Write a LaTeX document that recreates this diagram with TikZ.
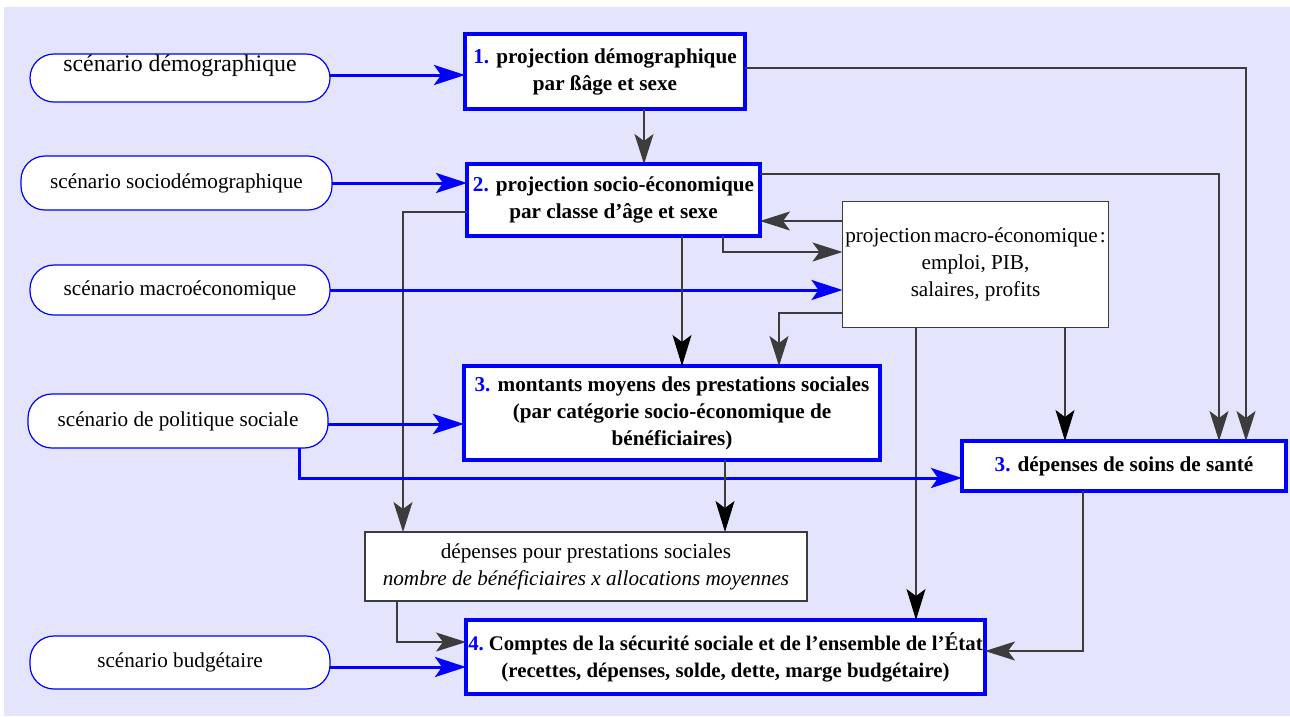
\documentclass[tikz,border=0pt]{standalone}
\usepackage{fontspec}
\setmainfont{Liberation Serif}
\usetikzlibrary{arrows.meta}
\definecolor{bg}{RGB}{228,228,252}
\definecolor{dk}{RGB}{60,60,60}
\definecolor{bl}{RGB}{0,0,255}
\begin{document}
\begin{tikzpicture}[x=1pt,y=-1pt,
 every node/.style={inner sep=0pt, outer sep=0pt},
 oval/.style={draw=bl, line width=1.2pt, fill=white, rounded corners=24pt, font=\fontsize{21.2}{27}\selectfont},
 mainbox/.style={draw=bl, line width=4pt, fill=white, align=center, font=\bfseries\fontsize{21.2}{27}\selectfont},
 plainbox/.style={draw=dk, line width=1.2pt, fill=white, align=center, font=\fontsize{21.2}{27}\selectfont},
 bluearrow/.style={draw=bl, line width=3pt, -{Stealth[length=31pt,width=20pt,inset=7pt]}},
 grayarrow/.style={draw=dk, line width=1.2pt, -{Stealth[length=30pt,width=19pt,inset=7pt]}},
 blackarrow/.style={draw=dk, line width=1.2pt, -{Stealth[length=31pt,width=19pt,inset=7pt,color=black]}}
]
\useasboundingbox (0,0) rectangle (1290,716);
\fill[bg] (4,7) rectangle (1290,716);

% scenario ovals
\node[oval, minimum width=300pt, minimum height=48pt,
  label={[font=\fontsize{23.8}{28}\selectfont, yshift=12pt]center:scénario démographique}] (o1) at (180,78) {};
\node[oval, minimum width=311pt, minimum height=54pt] (o2) at (176.5,183) {scénario sociodémographique};
\node[oval, minimum width=300pt, minimum height=50pt] (o3) at (180,290) {scénario macroéconomique};
\node[oval, minimum width=300pt, minimum height=54pt] (o4) at (178,421) {scénario de politique sociale};
\node[oval, minimum width=300pt, minimum height=53pt] (o5) at (180,662.5) {scénario budgétaire};

% main boxes
\node[mainbox, minimum width=280pt, minimum height=75pt] (b1) at (605,71.5)
  {\textcolor{bl}{1.} projection démographique\\par ßâge et sexe};
\node[mainbox, minimum width=293pt, minimum height=72pt] (b2) at (613.5,200)
  {\textcolor{bl}{2.} projection socio-économique\\par classe d’âge et sexe};
\node[plainbox, minimum width=266pt, minimum height=126pt] (macro) at (975.5,264.5)
  {projection\hspace{3pt}macro-économique\hspace{2pt}:\\emploi, PIB,\\salaires, profits};
\node[mainbox, minimum width=416pt, minimum height=94pt] (b3) at (672,413)
  {\textcolor{bl}{3.} montants moyens des prestations sociales\\(par catégorie socio-économique de\\bénéficiaires)};
\node[mainbox, minimum width=324pt, minimum height=50pt] (health) at (1124,466)
  {\textcolor{bl}{3.} dépenses de soins de santé};
\node[plainbox, minimum width=442pt, minimum height=69pt] (dep) at (586,566.5)
  {dépenses pour prestations sociales\\\textit{nombre de bénéficiaires x allocations moyennes}};
\node[mainbox, minimum width=519pt, minimum height=74pt, font=\bfseries\fontsize{20.8}{27}\selectfont] (b4) at (725.5,657)
  {\textcolor{bl}{4.}\hspace{-2pt} Comptes de la sécurité sociale et de l’ensemble de l’État\\(recettes, dépenses, solde, dette, marge budgétaire)};

% connectors
\draw[bluearrow] (o1.east |- 0,75) -- (b1.west |- 0,75);
\draw[grayarrow] (b1.south -| 644,0) -- (b2.north -| 644,0);
\draw[bluearrow] (o2.east |- 0,183) -- (b2.west |- 0,183);
\draw[grayarrow] (b2.west |- 0,212) -| (dep.north -| 403,0);
\draw[grayarrow] (b2.east |- 0,174) -| (health.north -| 1219,0);
\draw[grayarrow] (b1.east |- 0,68) -| (health.north -| 1246,0);
\draw[grayarrow] (macro.west |- 0,221) -- (b2.east |- 0,221);
\draw[grayarrow] (b2.south -| 723,0) |- (macro.west |- 0,252);
\draw[bluearrow] (o3.east |- 0,290) -- (macro.west |- 0,290);
\draw[blackarrow] (b2.south -| 682,0) -- (b3.north -| 682,0);
\draw[grayarrow] (macro.west |- 0,313) -| (b3.north -| 779,0);
\draw[blackarrow] (macro.south -| 916,0) -- (b4.north -| 916,0);
\draw[blackarrow] (macro.south -| 1065,0) -- (health.north -| 1065,0);
\draw[bluearrow] (o4.east |- 0,424) -- (b3.west |- 0,424);
\draw[bluearrow] (o4.south -| 299,0) |- (health.west |- 0,478);
\draw[blackarrow] (b3.south -| 725,0) -- (dep.north -| 725,0);
\draw[grayarrow] (dep.south -| 397,0) |- (b4.west |- 0,642);
\draw[bluearrow] (o5.east |- 0,667) -- (b4.west |- 0,667);
\draw[grayarrow] (health.south -| 1083,0) |- (b4.east |- 0,651);
\end{tikzpicture}
\end{document}
